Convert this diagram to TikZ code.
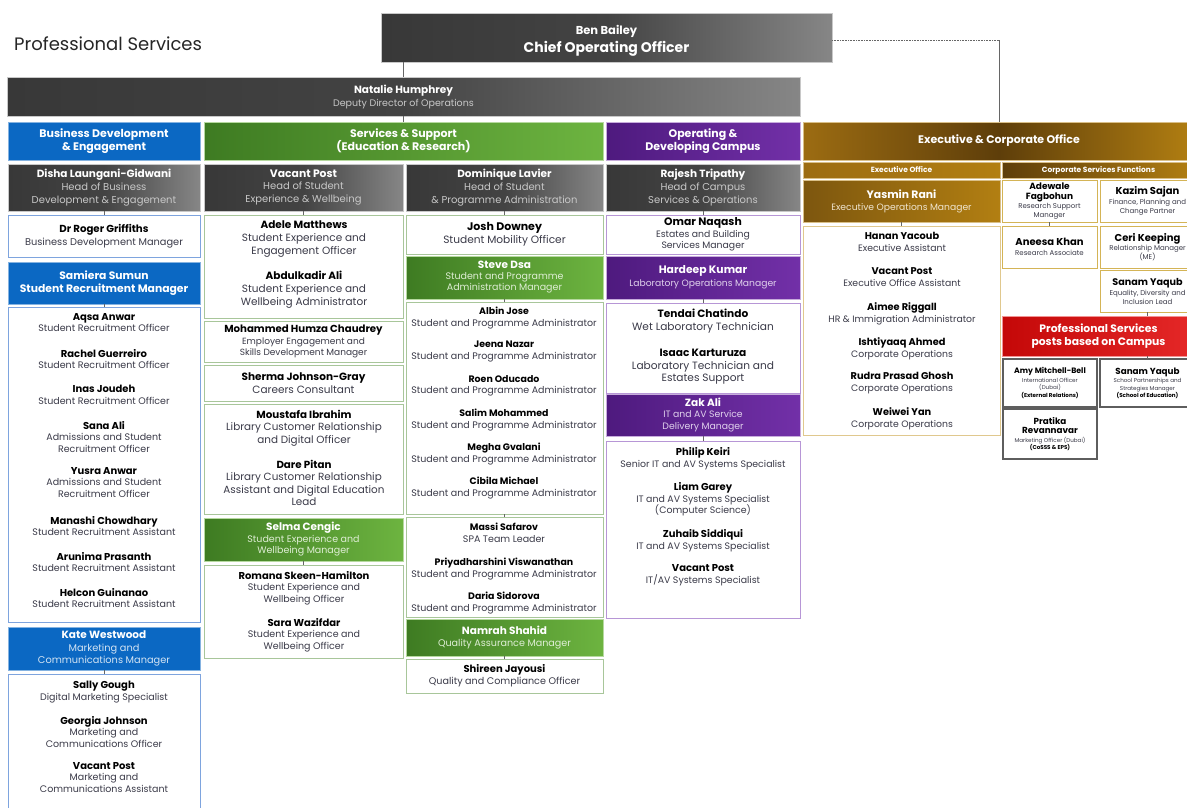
\documentclass[tikz,border=0pt]{standalone}
\usepackage{fontspec}
\setmainfont{Poppins}
\definecolor{dk1}{HTML}{383838}
\definecolor{dk2}{HTML}{434343}
\definecolor{dk3}{HTML}{868686}
\definecolor{bl}{HTML}{0B68C3}
\definecolor{gr1}{HTML}{3E7B22}
\definecolor{gr2}{HTML}{6DB440}
\definecolor{pu1}{HTML}{4E1A7E}
\definecolor{pu2}{HTML}{7230A8}
\definecolor{go1}{HTML}{9C6C12}
\definecolor{go2}{HTML}{5E3E0A}
\definecolor{go3}{HTML}{B27F12}
\definecolor{rd1}{HTML}{C40808}
\definecolor{rd2}{HTML}{E52828}
\definecolor{ttl}{HTML}{3A3A48}
\definecolor{ltg}{HTML}{C8C8C8}
\definecolor{bbd}{HTML}{7EA4DE}
\definecolor{gbd}{HTML}{A8C69A}
\definecolor{pbd}{HTML}{B796D6}
\definecolor{obd}{HTML}{E0C88E}
\definecolor{obd2}{HTML}{D4B456}
\definecolor{gybd}{HTML}{5E5E5E}
\tikzset{
  x=1pt, y=-1pt,
  box/.style={anchor=north west, inner sep=0pt, outer sep=0pt, align=center},
  darkbox/.style={box, left color=dk1, right color=dk3, middle color=dk2, draw=ltg, line width=0.5pt, text=ltg},
  bluebox/.style={box, fill=bl, draw=bl!50!white, line width=0.5pt, text=white},
  greenbox/.style={box, left color=gr1, right color=gr2, draw=gr2!50!white, line width=0.5pt, text=white},
  purplebox/.style={box, left color=pu1, right color=pu2, draw=pu2!40!white, line width=0.5pt, text=white},
  goldbox/.style={box, left color=go1, right color=go3, middle color=go2, draw=go3!50!white, line width=0.5pt, text=white},
  goldsub/.style={box, left color=#1, right color=go3, draw=go3!50!white, line width=0.5pt, text=white},
  redbox/.style={box, left color=rd1, right color=rd2, draw=rd2!50!white, line width=0.5pt, text=white},
  wbox/.style={box, fill=white, draw=#1, line width=1pt, text=ttl},
  pers/.style={anchor=north, inner sep=0pt, align=center, text=ttl, yshift=4pt, font=\fontsize{9.5}{11.4}\selectfont},
  conn/.style={draw=black!60, line width=0.6pt},
}
\newcommand\nmW[2][10.5]{{\color{white}\fontsize{#1}{12}\selectfont\bfseries #2}}
\newcommand\nmB[2][10]{{\color{black}\fontsize{#1}{12}\selectfont\bfseries #2}}
\newcommand\mkbox[7]{\node[#1, minimum width={#5pt-#3pt}, minimum height={#6pt-#4pt}] (#2) at (#3,#4) {#7};}
\def\nsz{10}
\newcommand\person[6][]{\node[pers,#1] (#2) at (#3,#4) {\nmB[\nsz]{#5}\\#6};}
\begin{document}
\begin{tikzpicture}
\useasboundingbox (0,0) rectangle (1187,807);
\fill[white] (0,0) rectangle (1187,807);
\node[anchor=west, inner sep=0pt, font=\fontsize{18}{20}\selectfont, text=black!85] (pstitle) at (14,44) {Professional Services};

% top
\mkbox{darkbox,text=white}{ben}{381}{13}{832}{62}{{\fontsize{11.5}{14}\selectfont\bfseries\rule{0pt}{16pt}Ben Bailey}\\[2pt]{\fontsize{14}{16}\selectfont\bfseries Chief Operating Officer}}
\mkbox{darkbox,font=\fontsize{9.5}{13.5}\selectfont}{nat}{7}{77}{800}{116}{\nmW[10.5]{\rule{0pt}{9pt}Natalie Humphrey}\\Deputy Director of Operations}

% headers
\mkbox{bluebox,font=\fontsize{11}{13}\selectfont\bfseries}{bde}{8}{122}{200}{160}{Business Development\\\& Engagement}
\mkbox{greenbox,font=\fontsize{11}{13}\selectfont\bfseries}{svc}{204}{122}{603}{160}{Services \& Support\\(Education \& Research)}
\mkbox{purplebox,font=\fontsize{11}{13}\selectfont\bfseries}{odc}{606}{122}{800}{160}{Operating \&\\Developing Campus}
\mkbox{goldbox,font=\fontsize{11}{14}\selectfont\bfseries}{eco}{803}{122}{1195}{160}{Executive \& Corporate Office}

% column 1
\mkbox{darkbox,font=\fontsize{10}{12.8}\selectfont}{disha}{8}{164}{200}{211}{\nmW{Disha Laungani-Gidwani}\\Head of Business\\Development \& Engagement}
\mkbox{wbox=bbd,font=\fontsize{9.8}{12.8}\selectfont}{roger}{8}{215}{200}{257}{\nmB[10.2]{Dr Roger Griffiths}\\Business Development Manager}
\mkbox{bluebox,font=\fontsize{10.8}{13}\selectfont\bfseries}{sam}{8}{262}{200}{304}{Samiera Sumun\\Student Recruitment Manager}
\mkbox{wbox=bbd}{srl}{8}{307}{200}{622}{}
\def\nsz{10}
\person{aqsa}{104}{317}{Aqsa Anwar}{Student Recruitment Officer}
\person{rach}{104}{353}{Rachel Guerreiro}{Student Recruitment Officer}
\person{inas}{104}{389}{Inas Joudeh}{Student Recruitment Officer}
\person{sana}{104}{425}{Sana Ali}{Admissions and Student\\Recruitment Officer}
\person{yusra}{104}{471}{Yusra Anwar}{Admissions and Student\\Recruitment Officer}
\person{mana}{104}{520}{Manashi Chowdhary}{Student Recruitment Assistant}
\person{arun}{104}{556}{Arunima Prasanth}{Student Recruitment Assistant}
\person{helc}{104}{592}{Helcon Guinanao}{Student Recruitment Assistant}
\mkbox{bluebox,font=\fontsize{9.8}{12.2}\selectfont,text=bl!18!white}{kate}{8}{627}{200}{670}{\nmW{Kate Westwood}\\Marketing and\\Communications Manager}
\mkbox{wbox=bbd}{mcl}{8}{674}{200}{812}{}
\person{sally}{104}{685}{Sally Gough}{Digital Marketing Specialist}
\person{georg}{104}{720}{Georgia Johnson}{Marketing and\\Communications Officer}
\person{vpmc}{104}{766}{Vacant Post}{Marketing and\\Communications Assistant}

% column 2
\mkbox{darkbox,font=\fontsize{10}{12.8}\selectfont}{vph}{204}{164}{403}{211}{\nmW[10.8]{Vacant Post}\\Head of Student\\Experience \& Wellbeing}
\mkbox{wbox=gbd}{sxb}{204}{215}{403}{318}{}
\def\nsz{10.5}
\person[font=\fontsize{10.5}{12.8}\selectfont]{adele}{304}{225}{Adele Matthews}{Student Experience and\\Engagement Officer}
\person[font=\fontsize{10.5}{12.8}\selectfont]{abdul}{304}{275}{Abdulkadir Ali}{Student Experience and\\Wellbeing Administrator}
\mkbox{wbox=gbd,font=\fontsize{9}{11.2}\selectfont}{mhc}{204}{321}{403}{362}{\nmB[10.2]{Mohammed Humza Chaudrey}\\Employer Engagement and\\Skills Development Manager}
\mkbox{wbox=gbd,font=\fontsize{10.5}{13.5}\selectfont}{sjg}{204}{365}{403}{401}{\nmB[10.5]{Sherma Johnson-Gray}\\Careers Consultant}
\mkbox{wbox=gbd}{libb}{204}{404}{403}{514}{}
\def\nsz{10.3}
\person[font=\fontsize{10.4}{12.4}\selectfont]{mous}{304}{414}{Moustafa Ibrahim}{Library Customer Relationship\\and Digital Officer}
\person[font=\fontsize{10.4}{12.4}\selectfont]{dare}{304}{464}{Dare Pitan}{Library Customer Relationship\\Assistant and Digital Education\\Lead}
\mkbox{greenbox,font=\fontsize{9.5}{11.5}\selectfont,text=gr2!22!white}{selma}{204}{518}{403}{561}{\nmW{Selma Cengic}\\Student Experience and\\Wellbeing Manager}
\mkbox{wbox=gbd}{swb}{204}{565}{403}{658}{}
\def\nsz{10}
\person{romana}{304}{575}{Romana Skeen-Hamilton}{Student Experience and\\Wellbeing Officer}
\person{sara}{304}{622}{Sara Wazifdar}{Student Experience and\\Wellbeing Officer}

% column 3
\mkbox{darkbox,font=\fontsize{10}{12.8}\selectfont}{dom}{406}{164}{603}{211}{\nmW{Dominique Lavier}\\Head of Student\\\& Programme Administration}
\mkbox{wbox=gbd,font=\fontsize{10.6}{13}\selectfont}{josh}{406}{215}{603}{254}{\nmB[11]{Josh Downey}\\Student Mobility Officer}
\mkbox{greenbox,font=\fontsize{9.5}{11}\selectfont,text=gr2!22!white}{steve}{406}{256}{603}{299}{\nmW{Steve Dsa}\\Student and Programme\\Administration Manager}
\mkbox{wbox=gbd}{spa1}{406}{302}{603}{514}{}
\def\nsz{9.4}
\person{albin}{504}{311}{Albin Jose}{Student and Programme Administrator}
\person{jeena}{504}{345}{Jeena Nazar}{Student and Programme Administrator}
\person{roen}{504}{379}{Roen Oducado}{Student and Programme Administrator}
\person{salim}{504}{413}{Salim Mohammed}{Student and Programme Administrator}
\person{megha}{504}{447}{Megha Gvalani}{Student and Programme Administrator}
\person{cibila}{504}{481}{Cibila Michael}{Student and Programme Administrator}
\mkbox{wbox=gbd}{spa2}{406}{517}{603}{617}{}
\person{massi}{504}{527}{Massi Safarov}{SPA Team Leader}
\person{priya}{504}{562}{Priyadharshini Viswanathan}{Student and Programme Administrator}
\person{daria}{504}{596}{Daria Sidorova}{Student and Programme Administrator}
\mkbox{greenbox,font=\fontsize{9.6}{12}\selectfont,text=gr2!22!white}{namrah}{406}{619}{603}{656}{\nmW{Namrah Shahid}\\Quality Assurance Manager}
\mkbox{wbox=gbd,font=\fontsize{9.6}{12}\selectfont}{shir}{406}{659}{603}{693}{\nmB{Shireen Jayousi}\\Quality and Compliance Officer}

% column 4
\mkbox{darkbox,font=\fontsize{10}{12.8}\selectfont}{raj}{606}{164}{800}{211}{\nmW{Rajesh Tripathy}\\Head of Campus\\Services \& Operations}
\mkbox{wbox=pbd,font=\fontsize{9.3}{11.5}\selectfont}{omar}{606}{215}{800}{254}{\nmB[10.8]{Omar Naqash}\\Estates and Building\\Services Manager}
\mkbox{purplebox,font=\fontsize{9.2}{13}\selectfont,text=pu2!22!white}{hard}{606}{256}{800}{299}{\nmW[10.8]{Hardeep Kumar}\\Laboratory Operations Manager}
\mkbox{wbox=pbd}{labb}{606}{303}{800}{393}{}
\def\nsz{10.6}
\person[font=\fontsize{10.6}{12.5}\selectfont]{tend}{703}{313}{Tendai Chatindo}{Wet Laboratory Technician}
\person[font=\fontsize{10.6}{12.5}\selectfont]{isaac}{703}{353}{Isaac Karturuza}{Laboratory Technician and\\Estates Support}
\mkbox{purplebox,font=\fontsize{9.3}{11.5}\selectfont,text=pu2!22!white}{zak}{606}{394}{800}{436}{\nmW{Zak Ali}\\IT and AV Service\\Delivery Manager}
\mkbox{wbox=pbd}{itb}{606}{441}{800}{618}{}
\def\nsz{10}
\person[font=\fontsize{9.4}{11.8}\selectfont]{phil}{703}{451}{Philip Keiri}{Senior IT and AV Systems Specialist}
\person[font=\fontsize{9.4}{11.8}\selectfont]{liam}{703}{486}{Liam Garey}{IT and AV Systems Specialist\\(Computer Science)}
\person[font=\fontsize{9.4}{11.8}\selectfont]{zuh}{703}{533}{Zuhaib Siddiqui}{IT and AV Systems Specialist}
\person[font=\fontsize{9.4}{11.8}\selectfont]{vpit}{703}{568}{Vacant Post}{IT/AV Systems Specialist}

% column 5 left
\mkbox{goldsub=go1,font=\fontsize{7.5}{9}\selectfont\bfseries}{exo}{803}{162}{1000}{178}{Executive Office}
\mkbox{goldsub=go2,font=\fontsize{7.5}{9}\selectfont\bfseries}{csf}{1002}{162}{1195}{178}{Corporate Services Functions}
\mkbox{goldsub=go1!80!black,font=\fontsize{9.2}{12}\selectfont,text=go3!20!white}{yas}{803}{180}{1000}{222}{\nmW[10.8]{Yasmin Rani}\\Executive Operations Manager}
\mkbox{wbox=obd}{exl}{803}{226}{1000}{435}{}
\def\nsz{9.8}
\person[font=\fontsize{9.3}{12}\selectfont]{hanan}{902}{236}{Hanan Yacoub}{Executive Assistant}
\person[font=\fontsize{9.3}{12}\selectfont]{vpex}{902}{271}{Vacant Post}{Executive Office Assistant}
\person[font=\fontsize{9.3}{12}\selectfont]{aimee}{902}{306}{Aimee Riggall}{HR \& Immigration Administrator}
\person[font=\fontsize{9.3}{12}\selectfont]{isht}{902}{341}{Ishtiyaaq Ahmed}{Corporate Operations}
\person[font=\fontsize{9.3}{12}\selectfont]{rudra}{902}{376}{Rudra Prasad Ghosh}{Corporate Operations}
\person[font=\fontsize{9.3}{12}\selectfont]{weiwei}{902}{411}{Weiwei Yan}{Corporate Operations}

% column 5 right
\mkbox{wbox=obd2,font=\fontsize{7}{8.2}\selectfont}{ade}{1002}{180}{1097}{222}{\nmB[9]{Adewale}\\[2pt]\nmB[9]{Fagbohun}\\[1pt]Research Support\\Manager}
\mkbox{wbox=obd2,font=\fontsize{7}{9}\selectfont}{kaz}{1100}{180}{1195}{222}{\nmB[10]{Kazim Sajan}\\[1pt]Finance, Planning and\\Change Partner}
\mkbox{wbox=obd2,font=\fontsize{7}{9}\selectfont}{anee}{1002}{226}{1097}{268}{\nmB[10]{Aneesa Khan}\\[1pt]Research Associate}
\mkbox{wbox=obd2,font=\fontsize{7}{8.5}\selectfont}{ceri}{1100}{226}{1195}{268}{\nmB[10]{Ceri Keeping}\\[1pt]Relationship Manager\\(ME)}
\mkbox{wbox=obd2,font=\fontsize{7}{9}\selectfont}{san1}{1100}{270}{1195}{312}{\nmB[9.6]{Sanam Yaqub}\\[1pt]Equality, Diversity and\\Inclusion Lead}
\mkbox{redbox,font=\fontsize{10.8}{13}\selectfont\bfseries}{psc}{1002}{316}{1195}{356}{Professional Services\\posts based on Campus}
\mkbox{wbox=gybd,line width=1.4pt,font=\fontsize{5.6}{7.2}\selectfont}{amy}{1003}{359}{1097}{407}{\nmB[7.8]{Amy Mitchell-Bell}\\[1.5pt]International Officer\\(Dubai)\\{\bfseries\color{black}(External Relations)}}
\mkbox{wbox=gybd,line width=1.4pt,font=\fontsize{5.6}{7.2}\selectfont}{san2}{1100}{359}{1195}{407}{\nmB[8.8]{Sanam Yaqub}\\[1.5pt]School Partnerships and\\Strategies Manager\\{\bfseries\color{black}(School of Education)}}
\mkbox{wbox=gybd,line width=1.4pt,font=\fontsize{5.6}{7.2}\selectfont}{prat}{1003}{409}{1097}{459}{\nmB[8.8]{Pratika}\\[2pt]\nmB[8.8]{Revannavar}\\[1.5pt]Marketing Officer (Dubai)\\{\bfseries\color{black}(CoSSS \& EPS)}}

% connectors
\draw[conn] (nat.north |- ben.south) -- (nat.north);
\draw[conn] (nat.south) -- (nat.south |- svc.north);
\coordinate (dcorner) at ([yshift=-2.5pt]ben.east -| eco.north);
\draw[conn, densely dotted] ([yshift=-2.5pt]ben.east) -- (dcorner);
\draw[conn] (dcorner) -- (eco.north);
\draw[conn] (disha.south) -- (roger.north);
\draw[conn] (sam.south) -- (srl.north);
\draw[conn] (kate.south) -- (mcl.north);
\draw[conn] (vph.south) -- (sxb.north);
\draw[conn] (selma.south) -- (swb.north);
\draw[conn] (dom.south) -- (josh.north);
\draw[conn] (steve.south) -- (spa1.north);
\draw[conn] (spa1.south) -- (spa2.north);
\draw[conn] (namrah.south) -- (shir.north);
\draw[conn] (raj.south) -- (omar.north);
\draw[conn] (hard.south) -- (labb.north);
\draw[conn] (zak.south) -- (itb.north);
\draw[conn] (yas.south) -- (exl.north);
\draw[conn] (ade.south) -- (anee.north);
\draw[conn] (san1.south) -- (san1.south |- psc.north);
\draw[conn] (san2.north |- psc.south) -- (san2.north);
\end{tikzpicture}
\end{document}
